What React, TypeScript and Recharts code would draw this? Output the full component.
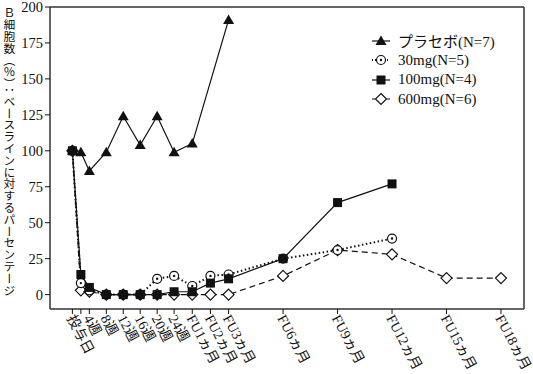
import React from 'react';
import { LineChart, Line, XAxis, YAxis, ReferenceLine } from 'recharts';

// x positions in days after first dose (FU n months = 24 weeks + n*30 days)
const days = [0, 14, 28, 56, 84, 112, 140, 168, 198, 228, 258, 348, 438, 528, 618, 708];
const tickLabels = ['投与日', '', '4週', '8週', '12週', '16週', '20週', '24週', 'FU1ヵ月', 'FU2ヵ月', 'FU3ヵ月', 'FU6ヵ月', 'FU9ヵ月', 'FU12ヵ月', 'FU15ヵ月', 'FU18ヵ月'];
const yTicks = [0, 25, 50, 75, 100, 125, 150, 175, 200];

const placebo = [100, 99, 86, 99, 124, 104, 124, 99, 105, null, 191, null, null, null, null, null];
const mg30 = [100, 8, 3, 0, 0, 0, 11, 13, 6, 13, 14, 25, 31, 39, null, null];
const mg100 = [100, 14, 5, 0, 0, 0, 0, 2, 2, 8, 11, 25, 64, 77, null, null];
const mg600 = [100, 3, 2, 0, 0, 0, 0, 0, 0, 0, 0, 13, 31, 28, 11.5, 11.5];

const data = days.map((d, i) => ({
    day: d,
    placebo: placebo[i],
    mg30: mg30[i],
    mg100: mg100[i],
    mg600: mg600[i],
}));

const FONT = "'Liberation Serif', 'Noto Sans CJK JP', serif";
const INK = '#111';

const Triangle = ({ cx, cy }: any) => (
    <path d={`M${cx},${cy - 5.5} L${cx + 5.5},${cy + 4} L${cx - 5.5},${cy + 4} Z`} fill={INK} />
);
const Square = ({ cx, cy }: any) => <rect x={cx - 4.5} y={cy - 4.5} width={9} height={9} fill={INK} />;
const Ring = ({ cx, cy }: any) => (
    <g>
        <circle cx={cx} cy={cy} r={4.5} fill="#fff" stroke={INK} strokeWidth={1.2} />
        <circle cx={cx} cy={cy} r={1.2} fill={INK} />
    </g>
);
const Diamond = ({ cx, cy }: any) => (
    <path d={`M${cx},${cy - 5.5} L${cx + 5.5},${cy} L${cx},${cy + 5.5} L${cx - 5.5},${cy} Z`} fill="#fff" stroke={INK} strokeWidth={1.2} />
);

const makeDot = (Shape: any) => (props: any) => {
    const { cx, cy, index, value } = props;
    if (value == null || cx == null || cy == null) return <g key={index} />;
    return <Shape key={index} cx={cx} cy={cy} />;
};

const XTick = ({ x, y, payload }: any) => {
    const i = days.indexOf(payload.value);
    const label = i >= 0 ? tickLabels[i] : '';
    return (
        <text x={x - 2} y={y} transform={`rotate(62 ${x - 2} ${y})`} textAnchor="start" dominantBaseline="central"
            fontSize={14} fontFamily={FONT} fill={INK}>
            {label}
        </text>
    );
};

const legendItems = [
    { name: 'プラセボ(N=7)', Shape: Triangle, dash: undefined as string | undefined },
    { name: '30mg(N=5)', Shape: Ring, dash: '1 2' },
    { name: '100mg(N=4)', Shape: Square, dash: undefined },
    { name: '600mg(N=6)', Shape: Diamond, dash: '3 2' },
];

export default function App() {
    return (
        <div style={{ position: 'absolute', left: 0, top: 0, width: 533, height: 374, background: '#fff', fontFamily: FONT }}>
            <div style={{
                position: 'absolute', left: 3, top: 7, writingMode: 'vertical-rl', fontSize: 11.8,
                fontFamily: "'Noto Sans CJK JP', sans-serif", color: INK, lineHeight: 1,
            }}>
                Ｂ細胞数（％）：ベースラインに対するパーセンテージ
            </div>
            <LineChart width={533} height={374} data={data} margin={{ top: 7, right: 9, bottom: 0, left: 0 }}>
                <XAxis type="number" dataKey="day" domain={[-37, 746]} ticks={days} interval={0} height={65}
                    tick={<XTick />} tickSize={5} axisLine={{ stroke: '#333', strokeWidth: 1.5 }} tickLine={{ stroke: INK }} />
                <YAxis type="number" domain={[-10, 200]} ticks={yTicks} width={50} interval={0} tickSize={5} tickMargin={2}
                    tick={{ fontSize: 14.5, fontFamily: FONT, fill: INK }}
                    axisLine={{ stroke: '#333', strokeWidth: 1.5 }} tickLine={{ stroke: INK }} />
                <ReferenceLine y={200} stroke="#333" strokeWidth={1.5} />
                <ReferenceLine x={746} stroke="#333" strokeWidth={1.5} />
                <Line dataKey="mg600" stroke={INK} strokeWidth={1.2} strokeDasharray="6 4" connectNulls
                    dot={makeDot(Diamond)} activeDot={false} isAnimationActive={false} />
                <Line dataKey="mg30" stroke={INK} strokeWidth={2} strokeDasharray="1.5 2.5" connectNulls
                    dot={makeDot(Ring)} activeDot={false} isAnimationActive={false} />
                <Line dataKey="mg100" stroke={INK} strokeWidth={1.2} connectNulls
                    dot={makeDot(Square)} activeDot={false} isAnimationActive={false} />
                <Line dataKey="placebo" stroke={INK} strokeWidth={1.2} connectNulls
                    dot={makeDot(Triangle)} activeDot={false} isAnimationActive={false} />
            </LineChart>
            <div style={{ position: 'absolute', left: 370, top: 31 }}>
                {legendItems.map((it) => (
                    <div key={it.name} style={{ display: 'flex', alignItems: 'center', height: 19.5 }}>
                        <svg width={24} height={14}>
                            <line x1={2} x2={20} y1={7} y2={7} stroke={INK} strokeWidth={it.dash === '1 2' ? 2 : 1.2}
                                strokeDasharray={it.dash} />
                            <it.Shape cx={11} cy={7} />
                        </svg>
                        <span style={{ marginLeft: 4, fontSize: 15, color: INK, whiteSpace: 'nowrap' }}>{it.name}</span>
                    </div>
                ))}
            </div>
        </div>
    );
}
